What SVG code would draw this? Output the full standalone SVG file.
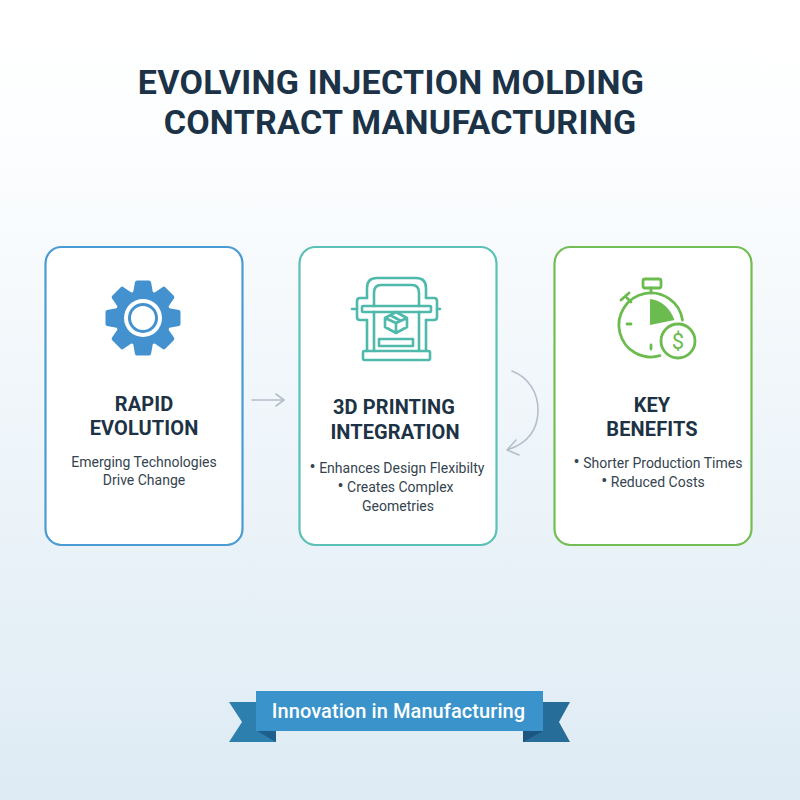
<svg xmlns="http://www.w3.org/2000/svg" width="800" height="800" viewBox="0 0 800 800">
<defs>
<linearGradient id="bg" x1="0" y1="0" x2="0" y2="1"><stop offset="0" stop-color="#ffffff"/><stop offset="0.15" stop-color="#fdfeff"/><stop offset="1" stop-color="#deebf4"/></linearGradient>
<path id="t" d="M-10-25L-8-36Q-7.500-37.500-6-37.500H6Q7.500-37.500 8-36L10-25Z"/>
</defs>
<style>
text{font-family:Roboto,"Liberation Sans",sans-serif;text-anchor:middle}
.title{font-size:34px;font-weight:700;fill:#1b3247;letter-spacing:.28px}
.head{font-size:20px;font-weight:700;fill:#1d3345;letter-spacing:.1px}
.body{font-size:14px;fill:#35444f}
.b{font-size:18px}
.card{fill:#fff;stroke-width:2.2}
.teal{fill:none;stroke:#4fb9ab;stroke-width:2.6;stroke-linejoin:round;stroke-linecap:round}
.green{fill:none;stroke:#6cbb4f;stroke-width:2.8;stroke-linecap:round;stroke-linejoin:round}
.conn{fill:none;stroke:#b4bfca;stroke-width:1.6;stroke-linecap:round;stroke-linejoin:round}
</style>
<rect width="800" height="800" fill="url(#bg)"/>
<g id="title">
<text class="title" x="391" y="94">EVOLVING INJECTION MOLDING</text>
<text class="title" x="400" y="134">CONTRACT MANUFACTURING</text>
</g>
<g id="connectors">
<path class="conn" d="M252 400H284M276 394L284 400L276 406"/>
<path class="conn" d="M512 371C530 378 538 394 538 410C538 432 526 444 507 450M516 440L507 450L519 455"/>
</g>
<g id="node-rapid-evolution">
<rect class="card" x="45.500" y="247" width="197" height="298" rx="16" stroke="#4a9bd4"/>
<g transform="translate(143 318)">
<circle r="28" fill="#4392cf"/>
<g fill="#4392cf">
<use href="#t"/><use href="#t" transform="rotate(45)"/><use href="#t" transform="rotate(90)"/><use href="#t" transform="rotate(135)"/><use href="#t" transform="rotate(180)"/><use href="#t" transform="rotate(225)"/><use href="#t" transform="rotate(270)"/><use href="#t" transform="rotate(315)"/>
</g>
<circle r="19" fill="#fff"/><circle r="15" fill="#4392cf"/><circle r="12" fill="#fff"/>
</g>
<text class="head" x="144" y="411">RAPID</text>
<text class="head" x="144" y="435">EVOLUTION</text>
<text class="body" x="144" y="467">Emerging Technologies</text>
<text class="body" x="144" y="485">Drive Change</text>
</g>
<g id="node-3d-printing">
<rect class="card" x="299.500" y="247" width="197" height="298" rx="16" stroke="#5bc0b5"/>
<g class="teal">
<path d="M367 298V288Q367 278 377 278H416Q426 278 426 288V298"/>
<path d="M374 306V293Q374 285 381 285H412Q419 285 419 293V306"/>
<rect x="362" y="306" width="69" height="6" rx="1"/>
<path d="M367 298H360Q357 298 357 301V317Q357 320 360 320H367M426 298H434Q437 298 437 301V317Q437 320 434 320H426"/>
<path d="M352 309H357M437 309H440"/>
<path d="M367 320V351M374 312V351M419 312V351M426 320V351"/>
<rect x="363" y="351" width="67" height="9" rx="1.500"/>
<rect x="379" y="339" width="34" height="7"/>
<path d="M396 312L385 318V327L396 333L407 327V318ZM385 318L396 323L407 318M396 323V333M390 315L401 321"/>
</g>
<text class="head" x="394" y="414">3D PRINTING</text>
<text class="head" x="395" y="439">INTEGRATION</text>
<text class="body" x="397" y="473"><tspan class="b">•</tspan> Enhances Design Flexibilty</text>
<text class="body" x="395.500" y="492"><tspan class="b">•</tspan> Creates Complex</text>
<text class="body" x="398" y="511">Geometries</text>
</g>
<g id="node-key-benefits">
<rect class="card" x="554.500" y="247" width="197" height="298" rx="16" stroke="#73bd55"/>
<g class="green">
<path d="M660 355.700A32 32 0 1 1 682.500 320"/>
<path d="M651 293V288"/>
<rect x="643" y="279" width="18" height="9" rx="2"/>
<path d="M627 298L631 302M621 300L629 293"/>
<path d="M627 324H631M651 345V349"/>
<circle cx="678" cy="341" r="17"/>
</g>
<path d="M650 299Q667 301 674.500 320L650 325Z" fill="#6cbb4f"/>
<text x="678" y="349" style="font-size:22px;fill:#6cbb4f">$</text>
<text class="head" x="652" y="412">KEY</text>
<text class="head" x="652" y="436">BENEFITS</text>
<text class="body" x="658" y="468"><tspan class="b">•</tspan> Shorter Production Times</text>
<text class="body" x="653" y="487"><tspan class="b">•</tspan> Reduced Costs</text>
</g>
<g id="banner">
<path d="M257 702H229L242 722L229 742H276V731H257Z" fill="#2d7fae"/>
<path d="M257 731L276 742V731Z" fill="#1f5f8c"/>
<path d="M543 702H570L559 722L570 742H523V731H543Z" fill="#276d9a"/>
<path d="M543 731L523 742V731Z" fill="#1c557f"/>
<rect x="256" y="691" width="287" height="40" fill="#3a94cb"/>
<text x="398.500" y="718" style="font-size:20px;font-weight:500;fill:#fff;letter-spacing:.08px">Innovation in Manufacturing</text>
</g>
</svg>
